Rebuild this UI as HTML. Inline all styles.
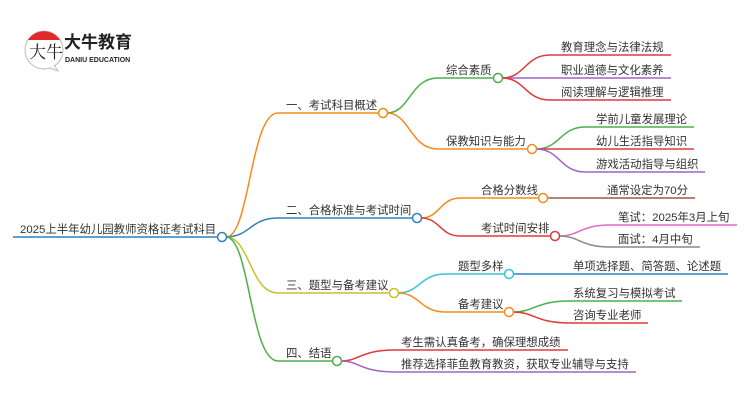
<!DOCTYPE html>
<html><head><meta charset="utf-8"><style>
html,body{margin:0;padding:0;background:#fff;}
svg text{font-family:"Liberation Sans","Noto Sans CJK SC",sans-serif;fill:#333;font-size:11.4px;}
</style></head><body>
<svg width="750" height="410" viewBox="0 0 750 410" xmlns="http://www.w3.org/2000/svg">
<!-- logo -->
<circle cx="44" cy="50" r="19" fill="#fff" stroke="#bbb" stroke-width="1"/>
<path d="M28,40 A19,19 0 0 1 60,40 Z" fill="#e02a2a"/>
<path d="M50,68 L58,71 L54,65" fill="#fff" stroke="#bbb"/>
<text x="29" y="58" style="font-size:17px;fill:#222;font-family:'Liberation Serif','Noto Serif CJK SC',serif">大牛</text>
<text x="64" y="48" style="font-size:17px;font-weight:bold;fill:#222">大牛教育</text>
<text x="65" y="62" style="font-size:7px;fill:#222;font-weight:bold">DANIU EDUCATION</text>

<g fill="none" stroke-width="1.5">
<path d="M13,237 H218" stroke="#2f7fc1"/>
<path d="M226,237 C250,237 250,113 278,113 H379" stroke="#f98a1c"/>
<path d="M226,237 C250,237 250,218 278,218 H413" stroke="#2f7fc1"/>
<path d="M226,237 C250,237 250,293 278,293 H390" stroke="#c5c22a"/>
<path d="M226,237 C250,237 250,361 278,361 H333" stroke="#4bb04b"/>
<path d="M387,113 C410,113 410,78 438,78 H494" stroke="#4bb04b"/>
<path d="M387,113 C410,113 410,149 438,149 H528" stroke="#f98a1c"/>
<path d="M502,78 C525,78 525,55 550,55 H671" stroke="#e0393b"/>
<path d="M502,78 H671" stroke="#a064c8"/>
<path d="M502,78 C525,78 525,100 550,100 H671" stroke="#e0393b"/>
<path d="M536,149 C560,149 560,127 585,127 H694" stroke="#4bb04b"/>
<path d="M536,149 H694" stroke="#e0393b"/>
<path d="M536,149 C560,149 560,172 585,172 H705" stroke="#a064c8"/>
<path d="M421,218 C440,218 440,198 460,198 H539" stroke="#f98a1c"/>
<path d="M421,218 C440,218 440,236 460,236 H551" stroke="#e0393b"/>
<path d="M547,198 H695" stroke="#9a5a4a"/>
<path d="M559,236 C580,236 580,225 610,225 H737" stroke="#e06ac8"/>
<path d="M559,236 C580,236 580,247 610,247 H700" stroke="#888"/>
<path d="M398,293 C420,293 420,274 445,274 H505" stroke="#36c3d8"/>
<path d="M398,293 C420,293 420,312 445,312 H505" stroke="#f98a1c"/>
<path d="M513,274 H728" stroke="#2f7fc1"/>
<path d="M513,312 C535,312 535,301 570,301 H682" stroke="#4bb04b"/>
<path d="M513,312 C535,312 535,323 570,323 H648" stroke="#e0393b"/>
<path d="M341,361 C360,361 360,350 395,350 H568" stroke="#e0393b"/>
<path d="M341,361 C360,361 360,372 395,372 H636" stroke="#a064c8"/>
</g>
<g fill="#fff" stroke-width="1.5">
<circle cx="222" cy="237" r="4.5" stroke="#2f7fc1"/>
<circle cx="383" cy="113" r="4.5" stroke="#f98a1c"/>
<circle cx="417" cy="218" r="4.5" stroke="#2f7fc1"/>
<circle cx="394" cy="293" r="4.5" stroke="#c5c22a"/>
<circle cx="337" cy="361" r="4.5" stroke="#4bb04b"/>
<circle cx="498" cy="78" r="4.5" stroke="#4bb04b"/>
<circle cx="532" cy="149" r="4.5" stroke="#f98a1c"/>
<circle cx="543" cy="198" r="4.5" stroke="#f98a1c"/>
<circle cx="555" cy="236" r="4.5" stroke="#e0393b"/>
<circle cx="509" cy="274" r="4.5" stroke="#36c3d8"/>
<circle cx="509" cy="312" r="4.5" stroke="#f98a1c"/>
</g>
<text x="20" y="233">2025上半年幼儿园教师资格证考试科目</text>
<text x="286" y="109">一、考试科目概述</text>
<text x="286" y="214">二、合格标准与考试时间</text>
<text x="286" y="289">三、题型与备考建议</text>
<text x="286" y="357">四、结语</text>
<text x="446" y="74">综合素质</text>
<text x="446" y="145">保教知识与能力</text>
<text x="481" y="194">合格分数线</text>
<text x="481" y="232">考试时间安排</text>
<text x="458" y="270">题型多样</text>
<text x="458" y="308">备考建议</text>
<text x="561" y="51">教育理念与法律法规</text>
<text x="561" y="74">职业道德与文化素养</text>
<text x="561" y="96">阅读理解与逻辑推理</text>
<text x="596" y="123">学前儿童发展理论</text>
<text x="596" y="145">幼儿生活指导知识</text>
<text x="596" y="168">游戏活动指导与组织</text>
<text x="607" y="194">通常设定为70分</text>
<text x="618" y="221">笔试：2025年3月上旬</text>
<text x="618" y="243">面试：4月中旬</text>
<text x="573" y="270">单项选择题、简答题、论述题</text>
<text x="573" y="297">系统复习与模拟考试</text>
<text x="573" y="319">咨询专业老师</text>
<text x="401" y="346">考生需认真备考，确保理想成绩</text>
<text x="401" y="368">推荐选择菲鱼教育教资，获取专业辅导与支持</text>
</svg>
</body></html>
